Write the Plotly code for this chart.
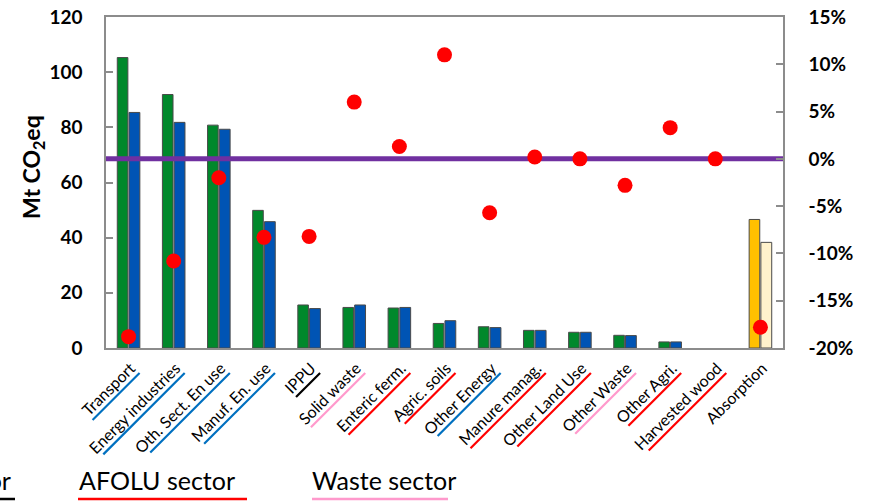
import math
import plotly.graph_objects as go

categories = ["Transport", "Energy industries", "Oth. Sect. En use", "Manuf. En. use", "IPPU",
              "Solid waste", "Enteric ferm.", "Agric. soils", "Other Energy", "Manure manag.",
              "Other Land Use", "Other Waste", "Other Agri.", "Harvested wood", "Absorption"]
sectors = ["Energy", "Energy", "Energy", "Energy", "IPPU",
           "Waste", "AFOLU", "AFOLU", "Energy", "AFOLU",
           "AFOLU", "Waste", "AFOLU", "AFOLU", None]
values_first = [105.3, 91.9, 80.8, 49.9, 15.6, 14.7, 14.5, 8.9, 7.7, 6.4, 5.7, 4.6, 2.2, None, 46.6]
values_second = [85.4, 81.8, 79.3, 45.8, 14.3, 15.6, 14.7, 9.9, 7.4, 6.4, 5.7, 4.5, 2.2, None, 38.3]
change_pct = [-18.8, -10.8, -2.0, -8.3, -8.2, 6.0, 1.3, 11.0, -5.7, 0.2, 0.0, -2.8, 3.3, 0.0, -17.8]
y_ticks = [0, 20, 40, 60, 80, 100, 120]
y2_ticks = [-20, -15, -10, -5, 0, 5, 10, 15]
legend_labels = ["IPPU sector", "AFOLU sector", "Waste sector"]

sector_colors = {"Energy": "#0070C0", "IPPU": "#000000", "Waste": "#FF99CC", "AFOLU": "#FF0000"}

W, H = 870, 501
L, R, T, B = 106, 783, 17, 348


def px2x(p):
    return (p - L) / (R - L)


def py2y(p):
    return (B - p) / (B - T)


# approximate advance widths (em) of a Calibri-like face, used to size label underlines
_CW = {'a': .479, 'b': .525, 'c': .423, 'd': .525, 'e': .498, 'f': .305, 'g': .471, 'h': .525,
       'i': .229, 'j': .239, 'k': .455, 'l': .229, 'm': .799, 'n': .525, 'o': .527, 'p': .525,
       'q': .525, 'r': .349, 's': .391, 't': .335, 'u': .525, 'v': .452, 'w': .715, 'x': .433,
       'y': .453, 'z': .395, ' ': .226, '.': .252, 'A': .579, 'E': .488, 'H': .623, 'I': .252,
       'L': .420, 'M': .855, 'O': .662, 'P': .517, 'S': .459, 'T': .487, 'U': .653, 'W': .890}


def text_width(s, size):
    return sum(_CW.get(ch, .5) for ch in s) * size


n = len(categories)
xs = list(range(n))

green_colors = ["#00882B"] * (n - 1) + ["#FFC000"]
blue_colors = ["#0054B4"] * (n - 1) + ["#FFF2CC"]

fig = go.Figure()
fig.add_trace(go.Bar(x=xs, y=values_first, offset=-0.25, width=0.235,
                     marker=dict(color=green_colors, line=dict(color="#4a4a4a", width=1)),
                     yaxis="y", showlegend=False))
fig.add_trace(go.Bar(x=xs, y=values_second, offset=0.01, width=0.24,
                     marker=dict(color=blue_colors, line=dict(color="#4a4a4a", width=1)),
                     yaxis="y", showlegend=False))
fig.add_trace(go.Scatter(x=[-0.5, n - 0.5], y=[0, 0], mode="lines",
                         line=dict(color="#7030A0", width=5), yaxis="y2", showlegend=False))
fig.add_trace(go.Scatter(x=xs, y=change_pct, mode="markers",
                         marker=dict(color="#FF0000", size=15), yaxis="y2", showlegend=False))

axis_line = "#8c8c8c"
fig.update_layout(
    width=W, height=H,
    margin=dict(l=L, r=W - R, t=T, b=H - B, autoexpand=False),
    paper_bgcolor="white", plot_bgcolor="white",
    barmode="overlay",
    font=dict(family="Lato", color="black"),
    xaxis=dict(range=[-0.5, n - 0.5], tickmode="array", tickvals=xs, ticktext=categories,
               tickangle=-45, tickfont=dict(family="Lato", size=16, color="black"),
               ticklabelstandoff=3, ticklabelshift=2,
               showline=True, linecolor=axis_line, linewidth=1.5, mirror=True,
               showgrid=False, zeroline=False, ticks="", automargin=False),
    yaxis=dict(range=[0, 120], tickmode="array", tickvals=y_ticks,
               tickfont=dict(family="Lato", size=19, color="black", weight="bold"),
               ticks="inside", ticklen=7, tickcolor=axis_line, tickwidth=1.5,
               showline=True, linecolor=axis_line, linewidth=1.5,
               showgrid=False, zeroline=False, automargin=False, ticklabelstandoff=18),
    yaxis2=dict(range=[-20, 15], overlaying="y", side="right", tickmode="array",
                tickvals=y2_ticks, ticktext=["%d%%" % v for v in y2_ticks],
                tickfont=dict(family="Lato", size=19, color="black", weight="bold"),
                ticks="inside", ticklen=7, tickcolor=axis_line, tickwidth=1.5,
                showline=True, linecolor=axis_line, linewidth=1.5,
                showgrid=False, zeroline=False, automargin=False, ticklabelstandoff=20),
)

# left axis title
fig.add_annotation(x=px2x(32), y=py2y(167), xref="paper", yref="paper",
                   text="Mt CO<sub>2</sub>eq", textangle=-90, showarrow=False,
                   xanchor="center", yanchor="middle",
                   font=dict(family="Lato", size=23, color="black", weight="bold"))

# coloured sector underlines of the category labels
for i, (c, s) in enumerate(zip(categories, sectors)):
    if s is None:
        continue
    length = text_width(c, 16) + 3
    d = length / math.sqrt(2)
    fig.add_shape(type="line", xref="paper", yref="paper",
                  xsizemode="pixel", ysizemode="pixel",
                  xanchor=(i + 0.5) / n, yanchor=0,
                  x0=11 - d, x1=11, y0=-25 - d, y1=-25,
                  line=dict(color=sector_colors[s], width=2.2))

# bottom sector captions (decorative legend)
caption_specs = [(13, "right", "#000000"), (77, "left", "#FF0000"), (310, "left", "#FF99CC")]
underline_spans = [(0, 15), (78, 247), (312, 448)]
for (xp, anchor, col), lab, (u0, u1) in zip(caption_specs, legend_labels, underline_spans):
    fig.add_annotation(x=px2x(xp), y=py2y(480), xref="paper", yref="paper",
                       text=lab, showarrow=False, xanchor=anchor, yanchor="middle",
                       font=dict(family="Lato", size=25, color="black"))
    fig.add_shape(type="line", xref="paper", yref="paper",
                  x0=px2x(u0), x1=px2x(u1), y0=py2y(499), y1=py2y(499),
                  line=dict(color=col, width=2.5))

fig.write_html("out.html")
